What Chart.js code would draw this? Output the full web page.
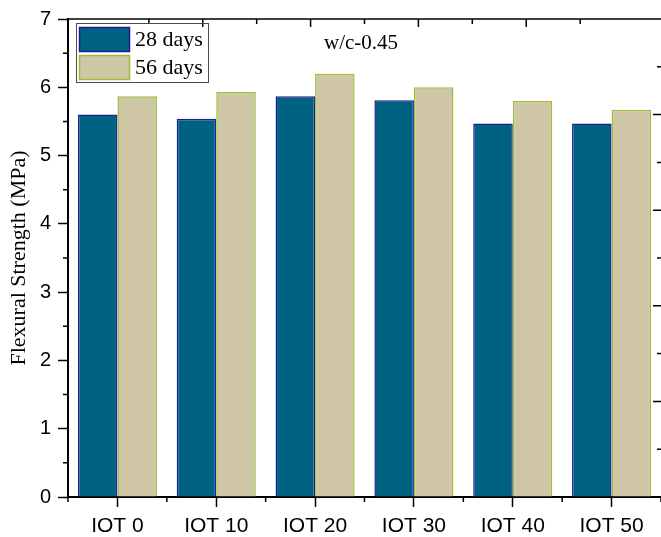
<!DOCTYPE html>
<html>
<head>
<meta charset="utf-8">
<script src="https://cdn.jsdelivr.net/npm/chart.js@4.4.1/dist/chart.umd.min.js"></script>
<style>
  html, body { margin: 0; padding: 0; background: #ffffff; }
  #wrap { width: 661px; height: 537px; position: relative; }
</style>
</head>
<body>
<div id="wrap"><canvas id="chart" width="661" height="537"></canvas></div>
<script>
// Mix designs (iron ore tailings replacement, %)
const categories = ['IOT 0', 'IOT 10', 'IOT 20', 'IOT 30', 'IOT 40', 'IOT 50'];
// Flexural strength, MPa
const days28 = [5.60, 5.54, 5.87, 5.81, 5.47, 5.47];
const days56 = [5.87, 5.93, 6.20, 6.00, 5.80, 5.67];
const seriesLabels = ['28 days', '56 days'];
const yTicks = [0, 1, 2, 3, 4, 5, 6, 7];
const annotation = 'w/c-0.45';

const COL28 = '#006283';
const EDGE28 = '#1c1f8f';
const COL56 = '#cec6a5';
const EDGE56 = '#9dbd3a';

// Frame: minor ticks, mirrored top/right ticks, legend box and note text
const framePlugin = {
  id: 'frame',
  afterDraw(chart) {
    const ctx = chart.ctx;
    const a = chart.chartArea;
    const x = chart.scales.x, y = chart.scales.y;
    const xt = chart.scales.xTop, yr = chart.scales.yRight;
    ctx.save();
    ctx.strokeStyle = '#000';
    ctx.lineWidth = 1.5;
    ctx.beginPath();
    // top axis line
    ctx.moveTo(a.left - 1, a.top);
    ctx.lineTo(a.right, a.top);
    // left minor ticks (outward)
    for (let v = 0.5; v < 7; v += 1) {
      const py = y.getPixelForValue(v);
      ctx.moveTo(a.left - 5, py);
      ctx.lineTo(a.left, py);
    }
    // bottom minor ticks at category boundaries
    for (let i = 0; i <= categories.length; i++) {
      const px = x.getPixelForValue(i - 0.5);
      ctx.moveTo(px, a.bottom);
      ctx.lineTo(px, a.bottom + 5);
    }
    // top ticks (inward)
    for (let i = 1; i < 10; i++) {
      const px = xt.getPixelForValue(i);
      ctx.moveTo(px, a.top);
      ctx.lineTo(px, a.top + (i % 2 === 0 ? 8 : 5));
    }
    // right ticks (inward)
    for (let i = 1; i < 10; i++) {
      const py = yr.getPixelForValue(i);
      ctx.moveTo(a.right, py);
      ctx.lineTo(a.right - (i % 2 === 0 ? 8 : 4), py);
    }
    ctx.stroke();

    // legend
    const lx = 76, ly = 23, lw = 132, lh = 59;
    ctx.lineWidth = 1;
    ctx.strokeStyle = '#4a4a4a';
    ctx.strokeRect(lx + 0.5, ly + 0.5, lw, lh);
    const sw = [
      { fill: COL28, edge: EDGE28, y: 27 },
      { fill: COL56, edge: EDGE56, y: 55 }
    ];
    ctx.font = '22px "Liberation Serif", "Times New Roman", serif';
    ctx.textBaseline = 'middle';
    ctx.textAlign = 'left';
    sw.forEach((s, i) => {
      ctx.fillStyle = s.fill;
      ctx.fillRect(79, s.y, 51, 25);
      ctx.strokeStyle = s.edge;
      ctx.lineWidth = 1.5;
      ctx.strokeRect(79.5, s.y + 0.5, 50, 24);
      ctx.fillStyle = '#000';
      ctx.fillText(seriesLabels[i], 135, s.y + 13);
    });

    // note text
    ctx.font = '21px "Liberation Serif", "Times New Roman", serif';
    ctx.fillStyle = '#000';
    ctx.fillText(annotation, 324, 43);
    ctx.restore();
  }
};

new Chart(document.getElementById('chart'), {
  type: 'bar',
  data: {
    labels: categories,
    datasets: [
      { label: seriesLabels[0], data: days28, backgroundColor: COL28, borderColor: EDGE28, borderWidth: 1.5, xAxisID: 'x', yAxisID: 'y' },
      { label: seriesLabels[1], data: days56, backgroundColor: COL56, borderColor: EDGE56, borderWidth: 1.5, xAxisID: 'x', yAxisID: 'y' }
    ]
  },
  options: {
    responsive: false,
    animation: false,
    devicePixelRatio: 1,
    layout: { padding: { left: 2, top: 19, right: 0, bottom: 0 } },
    datasets: { bar: { categoryPercentage: 0.8, barPercentage: 1.0 } },
    plugins: { legend: { display: false }, tooltip: { enabled: false } },
    scales: {
      x: {
        type: 'category',
        position: 'bottom',
        offset: true,
        grid: { display: true, offset: false, drawOnChartArea: false, drawTicks: true, tickLength: 10, tickWidth: 1.5, tickColor: '#000' },
        border: { display: true, color: '#000', width: 2 },
        ticks: { color: '#000', font: { family: 'Arial, "Liberation Sans", sans-serif', size: 21 }, padding: 7, maxRotation: 0 },
        afterFit(s) { s.height = 40; }
      },
      y: {
        type: 'linear',
        position: 'left',
        min: 0,
        max: 7,
        afterBuildTicks(s) { s.ticks = yTicks.map(v => ({ value: v })); },
        grid: { display: true, drawOnChartArea: false, drawTicks: true, tickLength: 10, tickWidth: 1.5, tickColor: '#000' },
        border: { display: true, color: '#000', width: 2 },
        ticks: { color: '#000', font: { family: 'Arial, "Liberation Sans", sans-serif', size: 20 }, padding: 7 },
        title: { display: true, text: 'Flexural Strength (MPa)', color: '#000', font: { family: '"Liberation Serif", "Times New Roman", serif', size: 22 }, padding: { top: 4, bottom: 0 } },
        afterFit(s) { s.width = 66; }
      },
      xTop: {
        type: 'linear', position: 'top', min: 0, max: 10, display: false
      },
      yRight: {
        type: 'linear', position: 'right', min: 0, max: 10, display: false
      }
    }
  },
  plugins: [framePlugin]
});
</script>
</body>
</html>
